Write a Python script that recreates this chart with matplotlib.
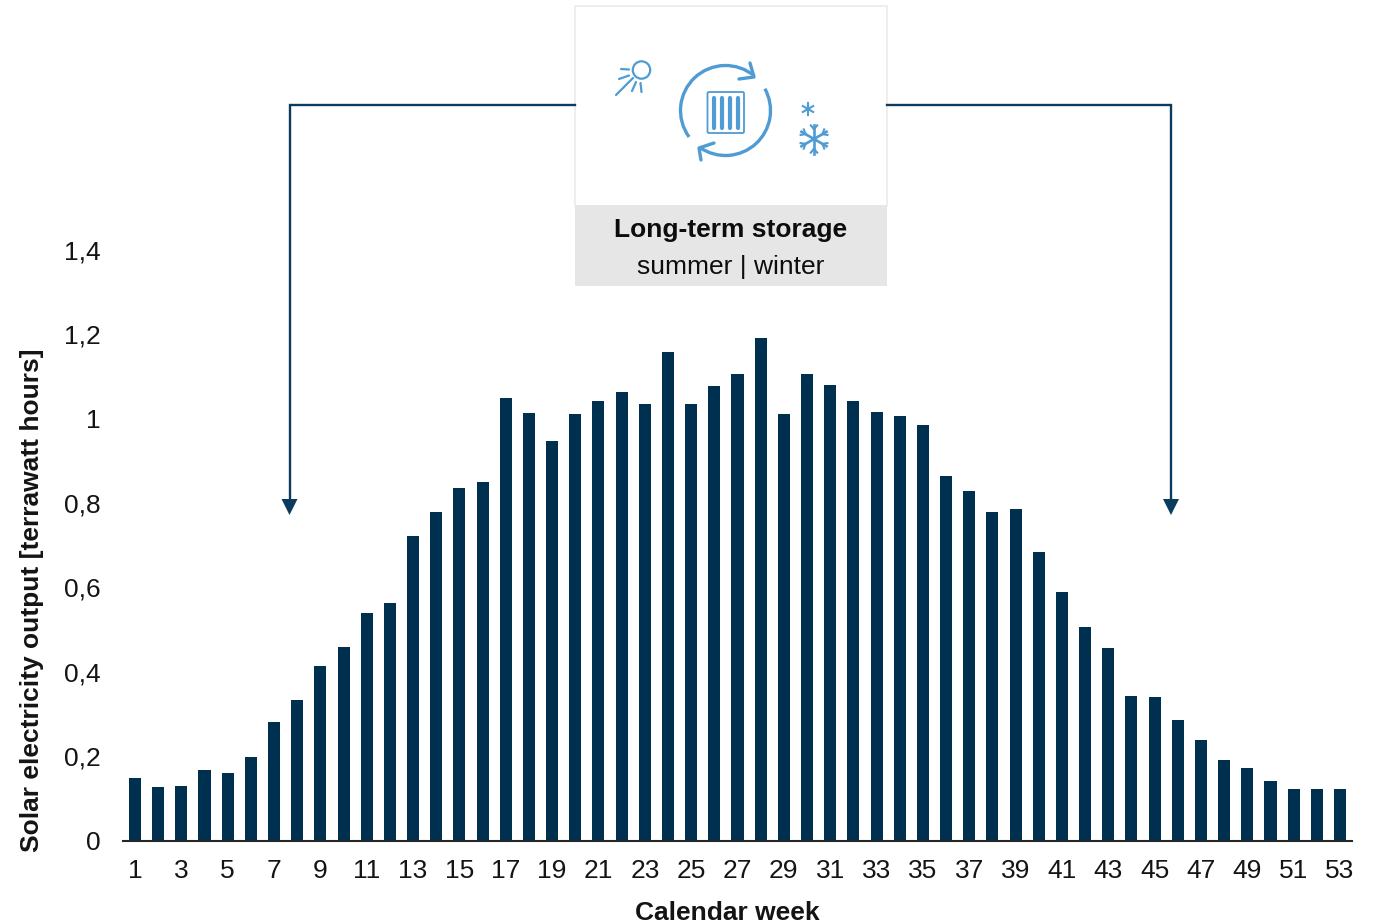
import numpy as np
import matplotlib
matplotlib.use("Agg")
import matplotlib.pyplot as plt
from matplotlib.patches import Rectangle, Circle, Arc, FancyBboxPatch, Polygon

plt.rcParams['font.family'] = ['Liberation Sans', 'DejaVu Sans']

weeks = list(range(1, 54))
output_twh = [0.148, 0.128, 0.130, 0.166, 0.161, 0.197, 0.280, 0.332, 0.413, 0.458,
              0.539, 0.563, 0.722, 0.779, 0.836, 0.850, 1.050, 1.014, 0.948, 1.010,
              1.043, 1.064, 1.036, 1.159, 1.036, 1.078, 1.105, 1.192, 1.012, 1.105,
              1.081, 1.043, 1.017, 1.007, 0.986, 0.865, 0.829, 0.779, 0.786, 0.684,
              0.589, 0.506, 0.456, 0.342, 0.340, 0.285, 0.238, 0.192, 0.173, 0.140,
              0.121, 0.123, 0.123]
y_ticks = [0, 0.2, 0.4, 0.6, 0.8, 1.0, 1.2, 1.4]
y_tick_labels = ['0', '0,2', '0,4', '0,6', '0,8', '1', '1,2', '1,4']

NAVY = '#00304f'
LINE = '#0b3c5d'
BLUE = '#4f9bd3'
TEXT = '#141414'
W, H = 1374, 924

fig = plt.figure(figsize=(W / 100, H / 100), dpi=100)

# main chart, placed by pixel position
left, right, top, bottom = 123, 1352, 250, 840.5
ax = fig.add_axes([left / W, 1 - bottom / H, (right - left) / W, (bottom - top) / H])
ax.bar(weeks, output_twh, width=0.52, color=NAVY)
ax.set_xlim(0.482, 53.517)
ax.set_ylim(0, 1.4)
ax.set_yticks(y_ticks)
ax.set_yticklabels(y_tick_labels)
ax.set_xticks(weeks[::2])
ax.tick_params(axis='both', length=0, labelsize=19, colors=TEXT)
ax.tick_params(axis='y', pad=16)
ax.tick_params(axis='x', pad=13.5)
for side in ['top', 'right', 'left']:
    ax.spines[side].set_visible(False)
ax.spines['bottom'].set_linewidth(1.5)
ax.spines['bottom'].set_color('#262626')

# overlay in pixel coordinates for labels, connectors and the storage box
ov = fig.add_axes([0, 0, 1, 1])
ov.set_xlim(0, W)
ov.set_ylim(H, 0)
ov.axis('off')
ov.patch.set_alpha(0)

ov.text(727, 912.5, 'Calendar week', fontsize=19, fontweight='bold', ha='center', va='center', color=TEXT)
ov.text(32, 600, 'Solar electricity output [terrawatt hours]', fontsize=19, fontweight='bold',
        rotation=90, ha='center', va='center', color=TEXT)

# connectors
ov.plot([575, 289.5, 289.5], [105, 105, 502], color=LINE, lw=1.7, solid_joinstyle='miter')
ov.plot([887, 1171, 1171], [105, 105, 502], color=LINE, lw=1.7, solid_joinstyle='miter')
for tip_x in [289.5, 1171]:
    ov.add_patch(Polygon([[tip_x - 8, 499], [tip_x + 8, 499], [tip_x, 515]], color=LINE, lw=0))

# box
ov.add_patch(Rectangle((575, 5.5), 312, 200, fc='white', ec='#ebebeb', lw=1.2))
ov.add_patch(Rectangle((575, 205), 312, 81, fc='#e6e6e6', ec='none'))
ov.text(731, 230, 'Long-term storage', fontsize=19, fontweight='bold', ha='center', va='center', color='#0d0d0d')
ov.text(731, 267, 'summer | winter', fontsize=19, ha='center', va='center', color='#0d0d0d')

# sun icon
ov.add_patch(Circle((641.5, 70), 8.7, fc='none', ec=BLUE, lw=1.6))
rays = [((621, 69), (629, 69.5)), ((619, 79), (629, 75.5)), ((616, 95), (633, 78)),
        ((632, 91), (636, 82)), ((641.5, 92), (640.5, 83))]
for a, b in rays:
    ov.plot([a[0], b[0]], [a[1], b[1]], color=BLUE, lw=1.6, solid_capstyle='round')

# cycle arrows around the radiator, y is inverted here so the angles run the other way
ov.add_patch(Arc((725.5, 110.5), 90, 90, theta1=-216, theta2=-50, ec=BLUE, lw=2.4))
ov.add_patch(Arc((725.5, 110.5), 90, 90, theta1=-29, theta2=124, ec=BLUE, lw=2.4))
ov.plot([739, 754, 750], [79, 77, 63], color=BLUE, lw=2.4, solid_capstyle='round', solid_joinstyle='round')
ov.plot([714, 699, 701], [143, 148, 160], color=BLUE, lw=2.4, solid_capstyle='round', solid_joinstyle='round')

# radiator
ov.add_patch(FancyBboxPatch((707.5, 92), 36.5, 41, boxstyle='round,pad=0,rounding_size=1.5',
                            fc='white', ec=BLUE, lw=1.3))
for x in [714, 722, 730, 738]:
    ov.plot([x, x], [98, 128], color=BLUE, lw=3.0, solid_capstyle='round')


def snowflake(cx, cy, r, lw, twig):
    for a in np.deg2rad([90, 30, -30]):
        dx, dy = r * np.cos(a), r * np.sin(a)
        ov.plot([cx - dx, cx + dx], [cy - dy, cy + dy], color=BLUE, lw=lw)
    if twig:
        for a in np.deg2rad([0, 60, 120, 180, 240, 300]):
            bx, by = cx + 0.68 * r * np.sin(a), cy - 0.68 * r * np.cos(a)
            for d in [-0.7, 0.7]:
                ov.plot([bx, bx + 0.34 * r * np.sin(a + d)], [by, by - 0.34 * r * np.cos(a + d)],
                        color=BLUE, lw=lw * 0.8)


snowflake(808, 109, 6, 1.5, False)
snowflake(814, 139, 14.5, 1.9, True)

fig.savefig('out.png', dpi=100)
